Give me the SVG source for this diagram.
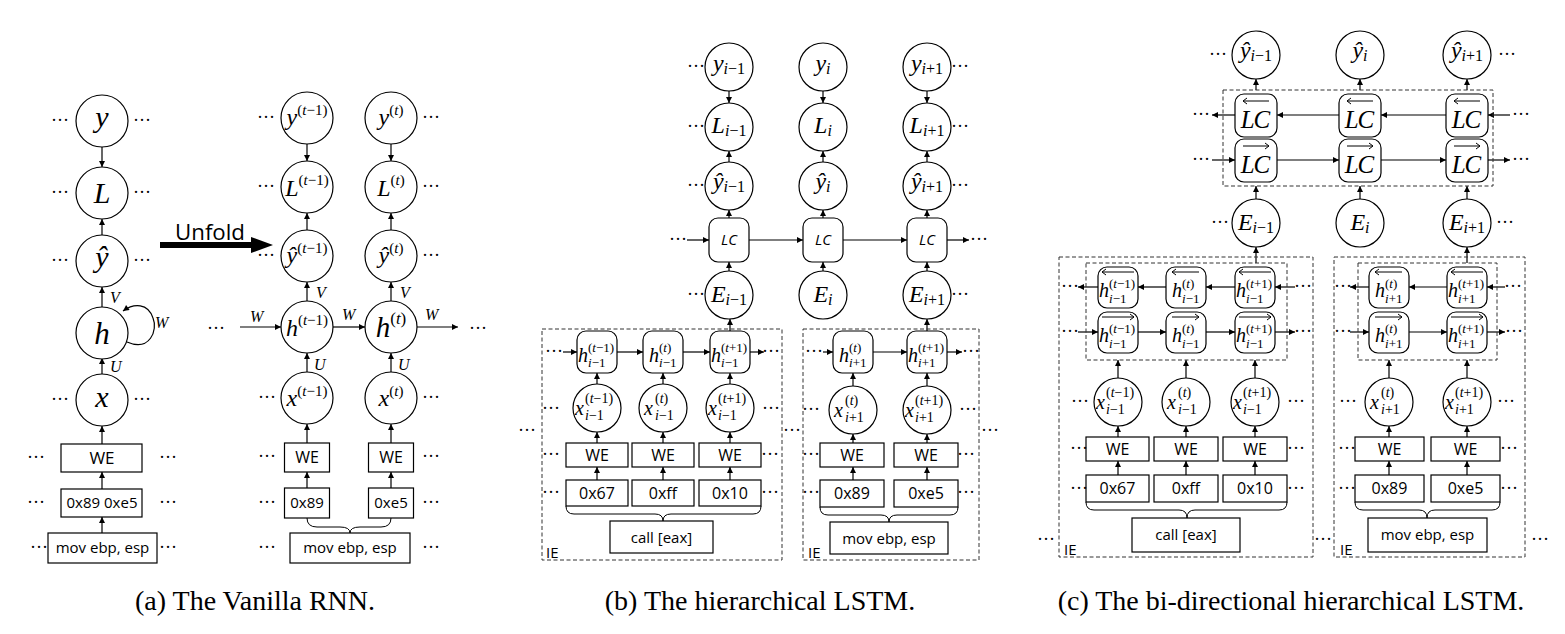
<svg xmlns="http://www.w3.org/2000/svg" width="1565" height="634" viewBox="0 0 1565 634">
<defs>
<marker id="ah" viewBox="0 0 10 10" refX="10" refY="5" markerWidth="7" markerHeight="6" markerUnits="userSpaceOnUse" orient="auto"><path d="M0,0 L10,5 L0,10 z" fill="#000"/></marker>
<style>
.m{font-family:"Liberation Serif",serif;font-style:italic}
.mc{font-family:"Liberation Serif",serif;font-style:italic;text-anchor:middle}
.n{font-style:normal}
.s{font-family:"Open Sans","Liberation Sans",sans-serif;text-anchor:middle}
.ie{font-family:"Open Sans","Liberation Sans",sans-serif;font-size:15px}
.dt{font-family:"Liberation Serif",serif;font-size:18px;text-anchor:middle}
.c{fill:#fff;stroke:#000;stroke-width:1.2}
.dash{fill:none;stroke:#333;stroke-width:1;stroke-dasharray:4 2.5}
.e{fill:none;stroke:#000;stroke-width:1.2;marker-end:url(#ah)}
.l{fill:none;stroke:#000;stroke-width:1}
.cap{font-family:"Liberation Serif",serif;font-size:28px;text-anchor:middle}
</style>
</defs>
<rect width="1565" height="634" fill="#fff"/>

<!-- ===================== CONNECTORS ===================== -->
<g id="connectors">
<!-- (a) left -->
<path class="e" d="M102,147 L102,167"/>
<path class="e" d="M102,235 L102,219"/>
<path class="e" d="M102,307 L102,287"/>
<path class="e" d="M102,374 L102,358"/>
<path class="e" d="M127,342 C150,352 158,330 153,318 C148,303 134,303 123,311"/>
<path class="e" d="M102,444 L102,426"/>
<path class="e" d="M102,489 L102,472"/>
<path class="e" d="M102,533 L102,517"/>
<!-- unfold arrow -->
<path d="M160,245 L254,245" stroke="#000" stroke-width="6" fill="none"/>
<path d="M251,237 L273,245 L251,253 z" fill="#000"/>
<!-- (a) right -->
<path class="e" d="M307,144 L307,161"/><path class="e" d="M391,144 L391,161"/>
<path class="e" d="M307,230 L307,213"/><path class="e" d="M391,230 L391,213"/>
<path class="e" d="M307,301 L307,282"/><path class="e" d="M391,301 L391,282"/>
<path class="e" d="M307,372 L307,353"/><path class="e" d="M391,372 L391,353"/>
<path class="e" d="M240,327 L281,327"/><path class="e" d="M333,327 L365,327"/><path class="e" d="M417,327 L458,327"/>
<path class="e" d="M307,443 L307,424"/><path class="e" d="M391,443 L391,424"/>
<path class="e" d="M307,488 L307,472"/><path class="e" d="M391,488 L391,472"/>
<path class="l" d="M307,518 Q307,527 317,527 L340,527 Q350,527 350,533 Q350,527 360,527 L381,527 Q391,527 391,518"/>

<!-- (b) top -->
<path class="e" d="M729,90 L729,103"/><path class="e" d="M823,90 L823,103"/><path class="e" d="M927,90 L927,103"/>
<path class="e" d="M729,162 L729,151"/><path class="e" d="M823,162 L823,151"/><path class="e" d="M927,162 L927,151"/>
<path class="e" d="M729,218 L729,210"/><path class="e" d="M823,218 L823,210"/><path class="e" d="M927,218 L927,210"/>
<path class="e" d="M729,271 L729,262"/><path class="e" d="M823,271 L823,262"/><path class="e" d="M927,271 L927,262"/>
<path class="e" d="M687,240 L709,240"/><path class="e" d="M749,240 L803,240"/><path class="e" d="M843,240 L907,240"/><path class="e" d="M947,240 L969,240"/>
<!-- (b) IE1 -->
<path class="e" d="M730,331 L730,319"/>
<path class="e" d="M563,352 L577,352"/><path class="e" d="M617,352 L643,352"/><path class="e" d="M683,352 L710,352"/><path class="e" d="M750,352 L764,352"/>
<path class="e" d="M597,384 L597,373"/><path class="e" d="M663,384 L663,373"/><path class="e" d="M730,384 L730,373"/>
<path class="e" d="M597,443 L597,432"/><path class="e" d="M663,443 L663,432"/><path class="e" d="M730,443 L730,432"/>
<path class="e" d="M597,480 L597,467"/><path class="e" d="M663,480 L663,467"/><path class="e" d="M730,480 L730,467"/>
<path class="l" d="M566,506 Q566,514 574,514 L655,514 Q663,514 663,521 Q663,514 671,514 L753,514 Q761,514 761,506"/>
<!-- (b) IE2 -->
<path class="e" d="M927,331 L927,319"/>
<path class="e" d="M823,352 L833,352"/><path class="e" d="M873,352 L907,352"/><path class="e" d="M947,352 L962,352"/>
<path class="e" d="M853,386 L853,373"/><path class="e" d="M927,386 L927,373"/>
<path class="e" d="M853,443 L853,434"/><path class="e" d="M927,443 L927,434"/>
<path class="e" d="M853,480 L853,467"/><path class="e" d="M927,480 L927,467"/>
<path class="l" d="M820,507 Q820,515 828,515 L881,515 Q889,515 889,522 Q889,515 897,515 L950,515 Q958,515 958,507"/>

<!-- (c) top -->
<path class="e" d="M1256,90 L1256,79"/><path class="e" d="M1360,90 L1360,79"/><path class="e" d="M1467,90 L1467,79"/>
<path class="e" d="M1256,199 L1256,186"/><path class="e" d="M1360,199 L1360,186"/><path class="e" d="M1467,199 L1467,186"/>
<path class="e" d="M1510,115 L1488,115"/><path class="e" d="M1446,115 L1381,115"/><path class="e" d="M1339,115 L1277,115"/><path class="e" d="M1235,115 L1212,115"/>
<path class="e" d="M1212,160 L1235,160"/><path class="e" d="M1277,160 L1339,160"/><path class="e" d="M1381,160 L1446,160"/><path class="e" d="M1488,160 L1510,160"/>
<!-- (c) IE1 -->
<path class="e" d="M1256,263 L1256,247"/>
<path class="e" d="M1295,287 L1275,287"/><path class="e" d="M1235,287 L1206,287"/><path class="e" d="M1166,287 L1138,287"/><path class="e" d="M1098,287 L1078,287"/>
<path class="e" d="M1078,332 L1098,332"/><path class="e" d="M1138,332 L1166,332"/><path class="e" d="M1206,332 L1235,332"/><path class="e" d="M1275,332 L1295,332"/>
<path class="e" d="M1118,378 L1118,360"/><path class="e" d="M1186,378 L1186,360"/><path class="e" d="M1255,378 L1255,360"/>
<path class="e" d="M1118,437 L1118,426"/><path class="e" d="M1186,437 L1186,426"/><path class="e" d="M1255,437 L1255,426"/>
<path class="e" d="M1118,475 L1118,461"/><path class="e" d="M1186,475 L1186,461"/><path class="e" d="M1255,475 L1255,461"/>
<path class="l" d="M1086,502 Q1086,510 1094,510 L1179,510 Q1187,510 1187,518 Q1187,510 1195,510 L1279,510 Q1287,510 1287,502"/>
<!-- (c) IE2 -->
<path class="e" d="M1467,263 L1467,247"/>
<path class="e" d="M1505,287 L1487,287"/><path class="e" d="M1447,287 L1409,287"/><path class="e" d="M1369,287 L1350,287"/>
<path class="e" d="M1350,332 L1369,332"/><path class="e" d="M1409,332 L1447,332"/><path class="e" d="M1487,332 L1505,332"/>
<path class="e" d="M1389,378 L1389,360"/><path class="e" d="M1467,378 L1467,360"/>
<path class="e" d="M1389,437 L1389,426"/><path class="e" d="M1467,437 L1467,426"/>
<path class="e" d="M1389,475 L1389,461"/><path class="e" d="M1467,475 L1467,461"/>
<path class="l" d="M1355,502 Q1355,510 1363,510 L1419,510 Q1427,510 1427,518 Q1427,510 1435,510 L1492,510 Q1500,510 1500,502"/>
</g>

<!-- ===================== PANEL (a) ===================== -->
<g id="a-y"><circle class="c" cx="102" cy="121" r="26"/><text class="mc" x="102" y="127" font-size="30">y</text></g>
<g id="a-L"><circle class="c" cx="102" cy="193" r="26"/><text class="mc" x="102" y="203" font-size="30">L</text></g>
<g id="a-yhat"><circle class="c" cx="102" cy="261" r="26"/><text class="mc" x="102" y="267" font-size="30">ŷ</text></g>
<g id="a-h"><circle class="c" cx="102" cy="333" r="26"/><text class="mc" x="102" y="344" font-size="31">h</text></g>
<g id="a-x"><circle class="c" cx="102" cy="400" r="26"/><text class="mc" x="102" y="407" font-size="30">x</text></g>
<g id="a-we"><rect class="c" x="61" y="444" width="81" height="28"/><text class="s" x="102" y="464" font-size="17">WE</text></g>
<g id="a-bytes"><rect class="c" x="61" y="489" width="81" height="28"/><text class="s" x="102" y="508" font-size="15">0x89 0xe5</text></g>
<g id="a-mov"><rect class="c" x="48" y="533" width="109" height="30"/><text class="s" x="102.5" y="553" font-size="15">mov ebp, esp</text></g>
<g id="a-labels">
<text class="m" x="110" y="303" font-size="16">V</text>
<text class="m" x="110" y="372" font-size="16">U</text>
<text class="m" x="155" y="328" font-size="16">W</text>
<text class="s" x="210" y="240" font-size="21" textLength="70" lengthAdjust="spacingAndGlyphs">Unfold</text>
<text class="m" x="250" y="322" font-size="16">W</text>
<text class="m" x="342" y="320" font-size="16">W</text>
<text class="m" x="425" y="320" font-size="16">W</text>
<text class="m" x="316" y="298" font-size="16">V</text>
<text class="m" x="400" y="298" font-size="16">V</text>
<text class="m" x="314" y="370" font-size="16">U</text>
<text class="m" x="398" y="370" font-size="16">U</text>
</g>
<g id="a-y1"><circle class="c" cx="307" cy="118" r="26"/><text class="mc" x="307" y="125" font-size="24">y<tspan font-size="15" dy="-10"><tspan class="n">(</tspan>t<tspan class="n">−1)</tspan></tspan></text></g>
<g id="a-y2"><circle class="c" cx="391" cy="118" r="26"/><text class="mc" x="391" y="125" font-size="24">y<tspan font-size="15" dy="-10"><tspan class="n">(</tspan>t<tspan class="n">)</tspan></tspan></text></g>
<g id="a-L1"><circle class="c" cx="307" cy="187" r="26"/><text class="mc" x="307" y="196" font-size="24">L<tspan font-size="15" dy="-11"><tspan class="n">(</tspan>t<tspan class="n">−1)</tspan></tspan></text></g>
<g id="a-L2"><circle class="c" cx="391" cy="187" r="26"/><text class="mc" x="391" y="196" font-size="24">L<tspan font-size="15" dy="-11"><tspan class="n">(</tspan>t<tspan class="n">)</tspan></tspan></text></g>
<g id="a-yh1"><circle class="c" cx="307" cy="256" r="26"/><text class="mc" x="307" y="263" font-size="24">ŷ<tspan font-size="15" dy="-10"><tspan class="n">(</tspan>t<tspan class="n">−1)</tspan></tspan></text></g>
<g id="a-yh2"><circle class="c" cx="391" cy="256" r="26"/><text class="mc" x="391" y="263" font-size="24">ŷ<tspan font-size="15" dy="-10"><tspan class="n">(</tspan>t<tspan class="n">)</tspan></tspan></text></g>
<g id="a-h1"><circle class="c" cx="307" cy="327" r="26"/><text class="mc" x="307" y="336" font-size="24">h<tspan font-size="15" dy="-11"><tspan class="n">(</tspan>t<tspan class="n">−1)</tspan></tspan></text></g>
<g id="a-h2"><circle class="c" cx="391" cy="327" r="26"/><text class="mc" x="391" y="337" font-size="29">h<tspan font-size="17" dy="-13"><tspan class="n">(</tspan>t<tspan class="n">)</tspan></tspan></text></g>
<g id="a-x1"><circle class="c" cx="307" cy="398" r="26"/><text class="mc" x="307" y="406" font-size="24">x<tspan font-size="15" dy="-10"><tspan class="n">(</tspan>t<tspan class="n">−1)</tspan></tspan></text></g>
<g id="a-x2"><circle class="c" cx="391" cy="398" r="26"/><text class="mc" x="391" y="406" font-size="24">x<tspan font-size="15" dy="-10"><tspan class="n">(</tspan>t<tspan class="n">)</tspan></tspan></text></g>
<g id="a-we1"><rect class="c" x="284.5" y="443" width="45" height="29"/><text class="s" x="307" y="463" font-size="16">WE</text></g>
<g id="a-we2"><rect class="c" x="368.5" y="443" width="45" height="29"/><text class="s" x="391" y="463" font-size="16">WE</text></g>
<g id="a-b1"><rect class="c" x="284.5" y="488" width="45" height="30"/><text class="s" x="307" y="508" font-size="15">0x89</text></g>
<g id="a-b2"><rect class="c" x="368.5" y="488" width="45" height="30"/><text class="s" x="391" y="508" font-size="15">0xe5</text></g>
<g id="a-mov2"><rect class="c" x="290" y="533" width="120" height="30"/><text class="s" x="350" y="553" font-size="15">mov ebp, esp</text></g>

<!-- ===================== PANEL (b) ===================== -->
<g id="b-ie1"><rect class="dash" x="542" y="329" width="240" height="231"/><text class="ie" x="546" y="558">IE</text></g>
<g id="b-ie2"><rect class="dash" x="803" y="329" width="176" height="231"/><text class="ie" x="808" y="558">IE</text></g>

<g id="b-y1"><circle class="c" cx="729" cy="67" r="24"/><text class="mc" x="729" y="71" font-size="24">y<tspan font-size="16" dy="3">i<tspan class="n">−1</tspan></tspan></text></g>
<g id="b-y2"><circle class="c" cx="823" cy="67" r="24"/><text class="mc" x="823" y="71" font-size="24">y<tspan font-size="16" dy="3">i</tspan></text></g>
<g id="b-y3"><circle class="c" cx="927" cy="67" r="24"/><text class="mc" x="927" y="71" font-size="24">y<tspan font-size="16" dy="3">i<tspan class="n">+1</tspan></tspan></text></g>
<g id="b-L1"><circle class="c" cx="729" cy="127" r="24"/><text class="mc" x="729" y="133" font-size="24">L<tspan font-size="16" dy="3">i<tspan class="n">−1</tspan></tspan></text></g>
<g id="b-L2"><circle class="c" cx="823" cy="127" r="24"/><text class="mc" x="823" y="133" font-size="24">L<tspan font-size="16" dy="3">i</tspan></text></g>
<g id="b-L3"><circle class="c" cx="927" cy="127" r="24"/><text class="mc" x="927" y="133" font-size="24">L<tspan font-size="16" dy="3">i<tspan class="n">+1</tspan></tspan></text></g>
<g id="b-yh1"><circle class="c" cx="729" cy="186" r="24"/><text class="mc" x="729" y="189" font-size="24">ŷ<tspan font-size="16" dy="3">i<tspan class="n">−1</tspan></tspan></text></g>
<g id="b-yh2"><circle class="c" cx="823" cy="186" r="24"/><text class="mc" x="823" y="189" font-size="24">ŷ<tspan font-size="16" dy="3">i</tspan></text></g>
<g id="b-yh3"><circle class="c" cx="927" cy="186" r="24"/><text class="mc" x="927" y="189" font-size="24">ŷ<tspan font-size="16" dy="3">i<tspan class="n">+1</tspan></tspan></text></g>
<g id="b-lc1"><rect class="c" x="709" y="218" width="40" height="44" rx="9"/><text class="s" x="729" y="245" font-size="15" font-style="italic">LC</text></g>
<g id="b-lc2"><rect class="c" x="803" y="218" width="40" height="44" rx="9"/><text class="s" x="823" y="245" font-size="15" font-style="italic">LC</text></g>
<g id="b-lc3"><rect class="c" x="907" y="218" width="40" height="44" rx="9"/><text class="s" x="927" y="245" font-size="15" font-style="italic">LC</text></g>
<g id="b-E1"><circle class="c" cx="729" cy="295" r="24"/><text class="mc" x="729" y="302" font-size="24">E<tspan font-size="16" dy="3">i<tspan class="n">−1</tspan></tspan></text></g>
<g id="b-E2"><circle class="c" cx="823" cy="295" r="24"/><text class="mc" x="823" y="302" font-size="24">E<tspan font-size="16" dy="3">i</tspan></text></g>
<g id="b-E3"><circle class="c" cx="927" cy="295" r="24"/><text class="mc" x="927" y="302" font-size="24">E<tspan font-size="16" dy="3">i<tspan class="n">+1</tspan></tspan></text></g>

<!-- (b) IE1 nodes -->
<g id="b-h11"><rect class="c" x="577" y="331" width="40" height="42" rx="9"/><text class="m" x="578" y="362" font-size="20">h</text><text class="m" x="588" y="352" font-size="13"><tspan class="n">(</tspan>t<tspan class="n">−1)</tspan></text><text class="m" x="588" y="367" font-size="13">i<tspan class="n">−1</tspan></text></g>
<g id="b-h12"><rect class="c" x="643" y="331" width="40" height="42" rx="9"/><text class="m" x="649" y="362" font-size="20">h</text><text class="m" x="659" y="352" font-size="13"><tspan class="n">(</tspan>t<tspan class="n">)</tspan></text><text class="m" x="659" y="367" font-size="13">i<tspan class="n">−1</tspan></text></g>
<g id="b-h13"><rect class="c" x="710" y="331" width="40" height="42" rx="9"/><text class="m" x="711" y="362" font-size="20">h</text><text class="m" x="721" y="352" font-size="13"><tspan class="n">(</tspan>t<tspan class="n">+1)</tspan></text><text class="m" x="721" y="367" font-size="13">i<tspan class="n">−1</tspan></text></g>
<g id="b-x11"><circle class="c" cx="597" cy="408" r="24"/><text class="m" x="575" y="415" font-size="20">x</text><text class="m" x="585" y="403" font-size="14"><tspan class="n">(</tspan>t<tspan class="n">−1)</tspan></text><text class="m" x="585" y="420" font-size="14">i<tspan class="n">−1</tspan></text></g>
<g id="b-x12"><circle class="c" cx="663" cy="408" r="24"/><text class="m" x="644" y="415" font-size="20">x</text><text class="m" x="655" y="403" font-size="14"><tspan class="n">(</tspan>t<tspan class="n">)</tspan></text><text class="m" x="655" y="420" font-size="14">i<tspan class="n">−1</tspan></text></g>
<g id="b-x13"><circle class="c" cx="730" cy="408" r="24"/><text class="m" x="708" y="415" font-size="20">x</text><text class="m" x="718" y="403" font-size="14"><tspan class="n">(</tspan>t<tspan class="n">+1)</tspan></text><text class="m" x="718" y="420" font-size="14">i<tspan class="n">−1</tspan></text></g>
<g id="b-we11"><rect class="c" x="566" y="443" width="62" height="24"/><text class="s" x="597" y="461" font-size="16">WE</text></g>
<g id="b-we12"><rect class="c" x="632" y="443" width="62" height="24"/><text class="s" x="663" y="461" font-size="16">WE</text></g>
<g id="b-we13"><rect class="c" x="699" y="443" width="62" height="24"/><text class="s" x="730" y="461" font-size="16">WE</text></g>
<g id="b-by11"><rect class="c" x="566" y="480" width="62" height="26"/><text class="s" x="597" y="499" font-size="16">0x67</text></g>
<g id="b-by12"><rect class="c" x="632" y="480" width="62" height="26"/><text class="s" x="663" y="499" font-size="16">0xff</text></g>
<g id="b-by13"><rect class="c" x="699" y="480" width="62" height="26"/><text class="s" x="730" y="499" font-size="16">0x10</text></g>
<g id="b-call"><rect class="c" x="610" y="521" width="103" height="32"/><text class="s" x="661.5" y="543" font-size="15">call [eax]</text></g>

<!-- (b) IE2 nodes -->
<g id="b-h21"><rect class="c" x="833" y="331" width="40" height="42" rx="9"/><text class="m" x="839" y="362" font-size="20">h</text><text class="m" x="849" y="352" font-size="13"><tspan class="n">(</tspan>t<tspan class="n">)</tspan></text><text class="m" x="849" y="367" font-size="13">i<tspan class="n">+1</tspan></text></g>
<g id="b-h22"><rect class="c" x="907" y="331" width="40" height="42" rx="9"/><text class="m" x="908" y="362" font-size="20">h</text><text class="m" x="918" y="352" font-size="13"><tspan class="n">(</tspan>t<tspan class="n">+1)</tspan></text><text class="m" x="918" y="367" font-size="13">i<tspan class="n">+1</tspan></text></g>
<g id="b-x21"><circle class="c" cx="853" cy="410" r="24"/><text class="m" x="834" y="417" font-size="20">x</text><text class="m" x="845" y="405" font-size="14"><tspan class="n">(</tspan>t<tspan class="n">)</tspan></text><text class="m" x="845" y="422" font-size="14">i<tspan class="n">+1</tspan></text></g>
<g id="b-x22"><circle class="c" cx="927" cy="410" r="24"/><text class="m" x="905" y="417" font-size="20">x</text><text class="m" x="915" y="405" font-size="14"><tspan class="n">(</tspan>t<tspan class="n">+1)</tspan></text><text class="m" x="915" y="422" font-size="14">i<tspan class="n">+1</tspan></text></g>
<g id="b-we21"><rect class="c" x="820" y="443" width="64" height="24"/><text class="s" x="852" y="461" font-size="16">WE</text></g>
<g id="b-we22"><rect class="c" x="894" y="443" width="64" height="24"/><text class="s" x="926" y="461" font-size="16">WE</text></g>
<g id="b-by21"><rect class="c" x="820" y="480" width="64" height="27"/><text class="s" x="852" y="499" font-size="16">0x89</text></g>
<g id="b-by22"><rect class="c" x="894" y="480" width="64" height="27"/><text class="s" x="926" y="499" font-size="16">0xe5</text></g>
<g id="b-mov"><rect class="c" x="830" y="522" width="118" height="32"/><text class="s" x="889" y="544" font-size="15">mov ebp, esp</text></g>

<!-- ===================== PANEL (c) ===================== -->
<g id="c-top-box"><rect class="dash" x="1223" y="90" width="270" height="96"/></g>
<g id="c-ie1"><rect class="dash" x="1059" y="257" width="254" height="300"/><rect class="dash" x="1086" y="263" width="201" height="97"/><text class="ie" x="1064" y="555">IE</text></g>
<g id="c-ie2"><rect class="dash" x="1334" y="257" width="191" height="300"/><rect class="dash" x="1358" y="263" width="139" height="97"/><text class="ie" x="1340" y="555">IE</text></g>

<g id="c-yh1"><circle class="c" cx="1256" cy="55" r="24"/><text class="mc" x="1256" y="58" font-size="24">ŷ<tspan font-size="16" dy="3">i<tspan class="n">−1</tspan></tspan></text></g>
<g id="c-yh2"><circle class="c" cx="1360" cy="55" r="24"/><text class="mc" x="1360" y="58" font-size="24">ŷ<tspan font-size="16" dy="3">i</tspan></text></g>
<g id="c-yh3"><circle class="c" cx="1467" cy="55" r="24"/><text class="mc" x="1467" y="58" font-size="24">ŷ<tspan font-size="16" dy="3">i<tspan class="n">+1</tspan></tspan></text></g>
<g id="c-lcb1"><rect class="c" x="1235" y="94" width="42" height="43" rx="9"/><path class="l" d="M1269,101 L1243,101 M1247,98 L1243,101 L1247,104"/><text class="mc" x="1255" y="128" font-size="25" letter-spacing="-1">LC</text></g>
<g id="c-lcb2"><rect class="c" x="1339" y="94" width="42" height="43" rx="9"/><path class="l" d="M1373,101 L1347,101 M1351,98 L1347,101 L1351,104"/><text class="mc" x="1359" y="128" font-size="25" letter-spacing="-1">LC</text></g>
<g id="c-lcb3"><rect class="c" x="1446" y="94" width="42" height="43" rx="9"/><path class="l" d="M1480,101 L1454,101 M1458,98 L1454,101 L1458,104"/><text class="mc" x="1466" y="128" font-size="25" letter-spacing="-1">LC</text></g>
<g id="c-lcf1"><rect class="c" x="1235" y="139" width="42" height="43" rx="9"/><path class="l" d="M1243,146 L1269,146 M1265,143 L1269,146 L1265,149"/><text class="mc" x="1255" y="173" font-size="25" letter-spacing="-1">LC</text></g>
<g id="c-lcf2"><rect class="c" x="1339" y="139" width="42" height="43" rx="9"/><path class="l" d="M1347,146 L1373,146 M1369,143 L1373,146 L1369,149"/><text class="mc" x="1359" y="173" font-size="25" letter-spacing="-1">LC</text></g>
<g id="c-lcf3"><rect class="c" x="1446" y="139" width="42" height="43" rx="9"/><path class="l" d="M1454,146 L1480,146 M1476,143 L1480,146 L1476,149"/><text class="mc" x="1466" y="173" font-size="25" letter-spacing="-1">LC</text></g>
<g id="c-E1"><circle class="c" cx="1256" cy="223" r="24"/><text class="mc" x="1256" y="230" font-size="24">E<tspan font-size="16" dy="3">i<tspan class="n">−1</tspan></tspan></text></g>
<g id="c-E2"><circle class="c" cx="1360" cy="223" r="24"/><text class="mc" x="1360" y="230" font-size="24">E<tspan font-size="16" dy="3">i</tspan></text></g>
<g id="c-E3"><circle class="c" cx="1467" cy="223" r="24"/><text class="mc" x="1467" y="230" font-size="24">E<tspan font-size="16" dy="3">i<tspan class="n">+1</tspan></tspan></text></g>

<!-- (c) IE1 h boxes -->
<g id="c-hb11"><rect class="c" x="1098" y="267" width="40" height="41" rx="9"/><path class="l" d="M1134,272 L1102,272 M1106,269 L1102,272 L1106,275"/><text class="m" x="1099" y="297" font-size="20">h</text><text class="m" x="1109" y="288" font-size="13"><tspan class="n">(</tspan>t<tspan class="n">−1)</tspan></text><text class="m" x="1109" y="303" font-size="13">i<tspan class="n">−1</tspan></text></g>
<g id="c-hb12"><rect class="c" x="1166" y="267" width="40" height="41" rx="9"/><path class="l" d="M1199,272 L1172,272 M1176,269 L1172,272 L1176,275"/><text class="m" x="1172" y="297" font-size="20">h</text><text class="m" x="1182" y="288" font-size="13"><tspan class="n">(</tspan>t<tspan class="n">)</tspan></text><text class="m" x="1182" y="303" font-size="13">i<tspan class="n">−1</tspan></text></g>
<g id="c-hb13"><rect class="c" x="1235" y="267" width="40" height="41" rx="9"/><path class="l" d="M1271,272 L1239,272 M1243,269 L1239,272 L1243,275"/><text class="m" x="1236" y="297" font-size="20">h</text><text class="m" x="1246" y="288" font-size="13"><tspan class="n">(</tspan>t<tspan class="n">+1)</tspan></text><text class="m" x="1246" y="303" font-size="13">i<tspan class="n">−1</tspan></text></g>
<g id="c-hf11"><rect class="c" x="1098" y="312" width="40" height="41" rx="9"/><path class="l" d="M1102,317 L1134,317 M1130,314 L1134,317 L1130,320"/><text class="m" x="1099" y="342" font-size="20">h</text><text class="m" x="1109" y="333" font-size="13"><tspan class="n">(</tspan>t<tspan class="n">−1)</tspan></text><text class="m" x="1109" y="348" font-size="13">i<tspan class="n">−1</tspan></text></g>
<g id="c-hf12"><rect class="c" x="1166" y="312" width="40" height="41" rx="9"/><path class="l" d="M1172,317 L1199,317 M1195,314 L1199,317 L1195,320"/><text class="m" x="1172" y="342" font-size="20">h</text><text class="m" x="1182" y="333" font-size="13"><tspan class="n">(</tspan>t<tspan class="n">)</tspan></text><text class="m" x="1182" y="348" font-size="13">i<tspan class="n">−1</tspan></text></g>
<g id="c-hf13"><rect class="c" x="1235" y="312" width="40" height="41" rx="9"/><path class="l" d="M1239,317 L1271,317 M1267,314 L1271,317 L1267,320"/><text class="m" x="1236" y="342" font-size="20">h</text><text class="m" x="1246" y="333" font-size="13"><tspan class="n">(</tspan>t<tspan class="n">+1)</tspan></text><text class="m" x="1246" y="348" font-size="13">i<tspan class="n">−1</tspan></text></g>
<g id="c-x11"><circle class="c" cx="1118" cy="402" r="24"/><text class="m" x="1096" y="409" font-size="20">x</text><text class="m" x="1106" y="397" font-size="14"><tspan class="n">(</tspan>t<tspan class="n">−1)</tspan></text><text class="m" x="1106" y="414" font-size="14">i<tspan class="n">−1</tspan></text></g>
<g id="c-x12"><circle class="c" cx="1186" cy="402" r="24"/><text class="m" x="1167" y="409" font-size="20">x</text><text class="m" x="1178" y="397" font-size="14"><tspan class="n">(</tspan>t<tspan class="n">)</tspan></text><text class="m" x="1178" y="414" font-size="14">i<tspan class="n">−1</tspan></text></g>
<g id="c-x13"><circle class="c" cx="1255" cy="402" r="24"/><text class="m" x="1233" y="409" font-size="20">x</text><text class="m" x="1243" y="397" font-size="14"><tspan class="n">(</tspan>t<tspan class="n">+1)</tspan></text><text class="m" x="1243" y="414" font-size="14">i<tspan class="n">−1</tspan></text></g>
<g id="c-we11"><rect class="c" x="1086" y="437" width="63" height="24"/><text class="s" x="1117.5" y="455" font-size="16">WE</text></g>
<g id="c-we12"><rect class="c" x="1154" y="437" width="64" height="24"/><text class="s" x="1186" y="455" font-size="16">WE</text></g>
<g id="c-we13"><rect class="c" x="1223" y="437" width="64" height="24"/><text class="s" x="1255" y="455" font-size="16">WE</text></g>
<g id="c-by11"><rect class="c" x="1086" y="475" width="63" height="27"/><text class="s" x="1117.5" y="494" font-size="16">0x67</text></g>
<g id="c-by12"><rect class="c" x="1154" y="475" width="64" height="27"/><text class="s" x="1186" y="494" font-size="16">0xff</text></g>
<g id="c-by13"><rect class="c" x="1223" y="475" width="64" height="27"/><text class="s" x="1255" y="494" font-size="16">0x10</text></g>
<g id="c-call"><rect class="c" x="1132" y="518" width="108" height="34"/><text class="s" x="1186" y="540" font-size="15">call [eax]</text></g>

<!-- (c) IE2 -->
<g id="c-hb21"><rect class="c" x="1369" y="267" width="40" height="41" rx="9"/><path class="l" d="M1402,272 L1375,272 M1379,269 L1375,272 L1379,275"/><text class="m" x="1375" y="297" font-size="20">h</text><text class="m" x="1385" y="288" font-size="13"><tspan class="n">(</tspan>t<tspan class="n">)</tspan></text><text class="m" x="1385" y="303" font-size="13">i<tspan class="n">+1</tspan></text></g>
<g id="c-hb22"><rect class="c" x="1447" y="267" width="40" height="41" rx="9"/><path class="l" d="M1483,272 L1451,272 M1455,269 L1451,272 L1455,275"/><text class="m" x="1448" y="297" font-size="20">h</text><text class="m" x="1458" y="288" font-size="13"><tspan class="n">(</tspan>t<tspan class="n">+1)</tspan></text><text class="m" x="1458" y="303" font-size="13">i<tspan class="n">+1</tspan></text></g>
<g id="c-hf21"><rect class="c" x="1369" y="312" width="40" height="41" rx="9"/><path class="l" d="M1375,317 L1402,317 M1398,314 L1402,317 L1398,320"/><text class="m" x="1375" y="342" font-size="20">h</text><text class="m" x="1385" y="333" font-size="13"><tspan class="n">(</tspan>t<tspan class="n">)</tspan></text><text class="m" x="1385" y="348" font-size="13">i<tspan class="n">+1</tspan></text></g>
<g id="c-hf22"><rect class="c" x="1447" y="312" width="40" height="41" rx="9"/><path class="l" d="M1451,317 L1483,317 M1479,314 L1483,317 L1479,320"/><text class="m" x="1448" y="342" font-size="20">h</text><text class="m" x="1458" y="333" font-size="13"><tspan class="n">(</tspan>t<tspan class="n">+1)</tspan></text><text class="m" x="1458" y="348" font-size="13">i<tspan class="n">+1</tspan></text></g>
<g id="c-x21"><circle class="c" cx="1389" cy="402" r="24"/><text class="m" x="1370" y="409" font-size="20">x</text><text class="m" x="1381" y="397" font-size="14"><tspan class="n">(</tspan>t<tspan class="n">)</tspan></text><text class="m" x="1381" y="414" font-size="14">i<tspan class="n">+1</tspan></text></g>
<g id="c-x22"><circle class="c" cx="1467" cy="402" r="24"/><text class="m" x="1445" y="409" font-size="20">x</text><text class="m" x="1455" y="397" font-size="14"><tspan class="n">(</tspan>t<tspan class="n">+1)</tspan></text><text class="m" x="1455" y="414" font-size="14">i<tspan class="n">+1</tspan></text></g>
<g id="c-we21"><rect class="c" x="1355" y="437" width="69" height="24"/><text class="s" x="1389.5" y="455" font-size="16">WE</text></g>
<g id="c-we22"><rect class="c" x="1431" y="437" width="69" height="24"/><text class="s" x="1465.5" y="455" font-size="16">WE</text></g>
<g id="c-by21"><rect class="c" x="1355" y="475" width="69" height="27"/><text class="s" x="1389.5" y="494" font-size="16">0x89</text></g>
<g id="c-by22"><rect class="c" x="1431" y="475" width="69" height="27"/><text class="s" x="1465.5" y="494" font-size="16">0xe5</text></g>
<g id="c-mov"><rect class="c" x="1368" y="518" width="119" height="34"/><text class="s" x="1427.5" y="540" font-size="15">mov ebp, esp</text></g>

<!-- ===================== ELLIPSES ===================== -->
<g id="ellipses">
<text class="dt" x="60" y="126">···</text><text class="dt" x="142" y="126">···</text>
<text class="dt" x="60" y="198">···</text><text class="dt" x="142" y="198">···</text>
<text class="dt" x="60" y="266">···</text><text class="dt" x="142" y="266">···</text>
<text class="dt" x="60" y="405">···</text><text class="dt" x="142" y="405">···</text>
<text class="dt" x="36" y="463">···</text><text class="dt" x="168" y="463">···</text>
<text class="dt" x="36" y="508">···</text><text class="dt" x="168" y="508">···</text>
<text class="dt" x="39" y="553">···</text><text class="dt" x="168" y="553">···</text>

<text class="dt" x="266" y="123">···</text><text class="dt" x="431" y="123">···</text>
<text class="dt" x="266" y="192">···</text><text class="dt" x="431" y="192">···</text>
<text class="dt" x="266" y="261">···</text><text class="dt" x="431" y="261">···</text>
<text class="dt" x="216" y="334">···</text><text class="dt" x="478" y="334">···</text>
<text class="dt" x="267" y="403">···</text><text class="dt" x="431" y="403">···</text>
<text class="dt" x="267" y="462">···</text><text class="dt" x="431" y="462">···</text>
<text class="dt" x="267" y="508">···</text><text class="dt" x="431" y="508">···</text>
<text class="dt" x="267" y="553">···</text><text class="dt" x="431" y="553">···</text>

<text class="dt" x="696" y="72">···</text><text class="dt" x="960" y="72">···</text>
<text class="dt" x="696" y="132">···</text><text class="dt" x="960" y="132">···</text>
<text class="dt" x="696" y="191">···</text><text class="dt" x="960" y="191">···</text>
<text class="dt" x="678" y="245">···</text><text class="dt" x="979" y="245">···</text>
<text class="dt" x="696" y="300">···</text><text class="dt" x="960" y="300">···</text>
<text class="dt" x="554" y="357">···</text><text class="dt" x="771" y="357">···</text>
<text class="dt" x="551" y="414">···</text><text class="dt" x="771" y="414">···</text>
<text class="dt" x="551" y="460">···</text><text class="dt" x="770" y="460">···</text>
<text class="dt" x="551" y="498">···</text><text class="dt" x="770" y="498">···</text>
<text class="dt" x="527" y="436">···</text><text class="dt" x="792" y="436">···</text><text class="dt" x="990" y="436">···</text>
<text class="dt" x="814" y="357">···</text><text class="dt" x="971" y="357">···</text>
<text class="dt" x="811" y="415">···</text><text class="dt" x="968" y="415">···</text>
<text class="dt" x="811" y="460">···</text><text class="dt" x="966" y="460">···</text>
<text class="dt" x="811" y="498">···</text><text class="dt" x="966" y="498">···</text>

<text class="dt" x="1218" y="60">···</text><text class="dt" x="1507" y="60">···</text>
<text class="dt" x="1201" y="120">···</text><text class="dt" x="1521" y="120">···</text>
<text class="dt" x="1201" y="165">···</text><text class="dt" x="1521" y="165">···</text>
<text class="dt" x="1220" y="228">···</text><text class="dt" x="1505" y="228">···</text>
<text class="dt" x="1070" y="292">···</text><text class="dt" x="1303" y="292">···</text>
<text class="dt" x="1070" y="337">···</text><text class="dt" x="1303" y="337">···</text>
<text class="dt" x="1080" y="407">···</text><text class="dt" x="1296" y="407">···</text>
<text class="dt" x="1079" y="454">···</text><text class="dt" x="1296" y="454">···</text>
<text class="dt" x="1079" y="494">···</text><text class="dt" x="1296" y="494">···</text>
<text class="dt" x="1046" y="545">···</text><text class="dt" x="1323" y="545">···</text><text class="dt" x="1540" y="545">···</text>
<text class="dt" x="1343" y="292">···</text><text class="dt" x="1513" y="292">···</text>
<text class="dt" x="1343" y="337">···</text><text class="dt" x="1514" y="337">···</text>
<text class="dt" x="1348" y="407">···</text><text class="dt" x="1506" y="407">···</text>
<text class="dt" x="1347" y="454">···</text><text class="dt" x="1509" y="454">···</text>
<text class="dt" x="1347" y="494">···</text><text class="dt" x="1509" y="494">···</text>
</g>

<!-- ===================== CAPTIONS ===================== -->
<g id="captions">
<text class="cap" x="255" y="610">(a) The Vanilla RNN.</text>
<text class="cap" x="760" y="610">(b) The hierarchical LSTM.</text>
<text class="cap" x="1291" y="610">(c) The bi-directional hierarchical LSTM.</text>
</g>
</svg>
